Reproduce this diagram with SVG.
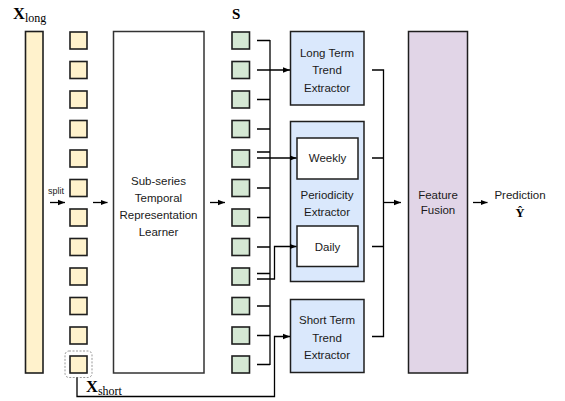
<svg xmlns="http://www.w3.org/2000/svg" width="565" height="401" viewBox="0 0 565 401">
<defs>
<marker id="ah" viewBox="0 0 8 8" refX="8" refY="4" markerWidth="7" markerHeight="7" markerUnits="userSpaceOnUse" orient="auto">
<path d="M0,0.8 L8,4 L0,7.2 Z" fill="#000"/>
</marker>
<style>
.y{fill:#fff2cc;stroke:#1e1e1e;stroke-width:1.6}
.g{fill:#d5e8d4;stroke:#1e1e1e;stroke-width:1.6}
.b{fill:#dae8fc;stroke:#1e1e1e;stroke-width:1.5}
.w{fill:#fff;stroke:#1e1e1e;stroke-width:1.5}
.p{fill:#e1d5e7;stroke:#1e1e1e;stroke-width:1.5}
.c{fill:none;stroke:#000;stroke-width:1.3}
.a{fill:none;stroke:#000;stroke-width:1.3;marker-end:url(#ah)}
.t{font-family:"Liberation Sans",Arial,sans-serif;font-size:11.5px;fill:#1a1a1a;text-anchor:middle}
.m{font-family:"Liberation Serif","Times New Roman",serif;fill:#000}
</style>
</defs>

<g id="labels">
<text class="m" x="13" y="19" font-size="16.5" font-weight="bold">X<tspan font-size="12" font-weight="normal" dy="3">long</tspan></text>
<text class="m" x="232" y="19" font-size="15" font-weight="bold">S</text>
<text class="m" x="86" y="392" font-size="16.5" font-weight="bold">X<tspan font-size="12" font-weight="normal" dy="3">short</tspan></text>
<text class="t" x="56" y="194" style="font-size:9px">split</text>
</g>

<g id="x-long">
<rect class="y" x="25.5" y="31.5" width="17.5" height="341.5"/>
</g>

<g id="subseries-input">
<rect class="y" x="70" y="32" width="17" height="17"/>
<rect class="y" x="70" y="61.5" width="17" height="17"/>
<rect class="y" x="70" y="91" width="17" height="17"/>
<rect class="y" x="70" y="120.5" width="17" height="17"/>
<rect class="y" x="70" y="150" width="17" height="17"/>
<rect class="y" x="70" y="179.5" width="17" height="17"/>
<rect class="y" x="70" y="209" width="17" height="17"/>
<rect class="y" x="70" y="238.5" width="17" height="17"/>
<rect class="y" x="70" y="268" width="17" height="17"/>
<rect class="y" x="70" y="297.5" width="17" height="17"/>
<rect class="y" x="70" y="327" width="17" height="17"/>
<rect class="y" x="70" y="356" width="17" height="17"/>
<rect x="65" y="351" width="27" height="26.5" rx="4" fill="none" stroke="#999" stroke-width="1" stroke-dasharray="2 1.5"/>
</g>

<g id="learner">
<rect x="113.5" y="31.5" width="90.5" height="341.5" fill="#fff" stroke="#333" stroke-width="1.5"/>
<text class="t" x="158.5" y="185">Sub-series</text>
<text class="t" x="158.5" y="202">Temporal</text>
<text class="t" x="158.5" y="219">Representation</text>
<text class="t" x="158.5" y="236">Learner</text>
</g>

<g id="s-embeddings">
<rect class="g" x="232" y="32" width="17.5" height="17"/>
<rect class="g" x="232" y="61.5" width="17.5" height="17"/>
<rect class="g" x="232" y="91" width="17.5" height="17"/>
<rect class="g" x="232" y="120.5" width="17.5" height="17"/>
<rect class="g" x="232" y="150" width="17.5" height="17"/>
<rect class="g" x="232" y="179.5" width="17.5" height="17"/>
<rect class="g" x="232" y="209" width="17.5" height="17"/>
<rect class="g" x="232" y="238.5" width="17.5" height="17"/>
<rect class="g" x="232" y="268" width="17.5" height="17"/>
<rect class="g" x="232" y="297.5" width="17.5" height="17"/>
<rect class="g" x="232" y="327" width="17.5" height="17"/>
<rect class="g" x="232" y="356" width="17.5" height="17"/>
</g>

<g id="long-term">
<rect class="b" x="290.5" y="31.5" width="73.5" height="73.5"/>
<text class="t" x="327" y="56.5">Long Term</text>
<text class="t" x="327" y="74">Trend</text>
<text class="t" x="327" y="91.5">Extractor</text>
</g>

<g id="periodicity">
<rect class="b" x="290.5" y="121.5" width="73.5" height="160"/>
<text class="t" x="327" y="199">Periodicity</text>
<text class="t" x="327" y="215.5">Extractor</text>
</g>
<g id="weekly">
<rect class="w" x="297" y="138" width="61" height="41"/>
<text class="t" x="327.5" y="161.5">Weekly</text>
</g>
<g id="daily">
<rect class="w" x="297" y="226" width="61" height="40.5"/>
<text class="t" x="327.5" y="250.5">Daily</text>
</g>

<g id="short-term">
<rect class="b" x="290.5" y="299.5" width="73.5" height="73"/>
<text class="t" x="327" y="324">Short Term</text>
<text class="t" x="327" y="341.5">Trend</text>
<text class="t" x="327" y="359">Extractor</text>
</g>

<g id="fusion">
<rect class="p" x="408.5" y="31.5" width="59" height="341.5"/>
<text class="t" x="438" y="199">Feature</text>
<text class="t" x="438" y="214">Fusion</text>
</g>

<g id="prediction">
<text class="t" x="520" y="199">Prediction</text>
<text class="m" x="520" y="217" font-size="12.5" font-weight="bold" text-anchor="middle">Ŷ</text>
</g>

<g id="connectors">
<line class="a" x1="50" y1="202.5" x2="65" y2="202.5"/>
<line class="a" x1="93" y1="202.5" x2="107.5" y2="202.5"/>
<line class="a" x1="210" y1="202.5" x2="225" y2="202.5"/>
<line class="c" x1="270" y1="40" x2="270" y2="365"/>
<path class="c" d="M257,40.5H270 M257,99.5H270 M257,129H270 M257,152H270 M257,188H270 M257,217.5H270 M257,247H270 M257,273.5H270 M257,306H270 M257,335.5H270 M257,364.5H270"/>
<line class="a" x1="257" y1="70" x2="290" y2="70"/>
<line class="a" x1="257" y1="158" x2="296.5" y2="158"/>
<path class="a" d="M257,279H274.5V246.5H296.5"/>
<path class="a" d="M77,377.5V396.5H274.5V336.5H290"/>
<path class="c" d="M372,70H383.5V336.5H372 M372,158H383.5 M372,246.5H383.5"/>
<line class="a" x1="383.5" y1="202.5" x2="401" y2="202.5"/>
<line class="a" x1="473" y1="202.5" x2="487.5" y2="202.5"/>
</g>
</svg>
